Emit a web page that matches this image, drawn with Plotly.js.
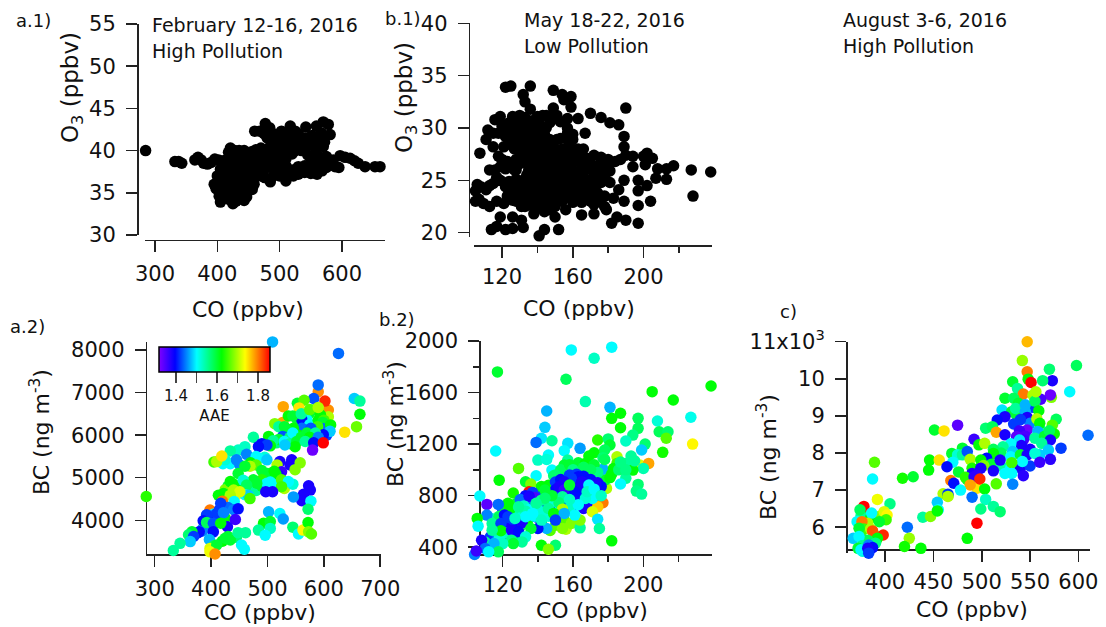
<!DOCTYPE html>
<html><head><meta charset="utf-8">
<script src="https://cdn.plot.ly/plotly-3.0.1.min.js"></script>
<style>html,body{margin:0;padding:0;background:#fff}#p{width:1106px;height:627px}</style>
</head><body><div id="p"></div>
<script>
// Panel a.1: [CO, O3]
const a1Points=[[285,40],[332,38.7],[338,38.7],[343,38.5],[364,38.9],[369,39.2],[374,38.9],[378,38.5],[384,38.4],[390,38.6],[396,39],[402,38.9],
[405,33.9],[425,33.7],[443,34.1],[447,34.5],[398,35.5],[408,35.2],[415,35],[422,34.8],[430,35],[436,35.5],[402,36.3],[410,36.2],[417,36],[425,36],[433,36],[440,36],[449,35.5],[456,35.4],[459,36],
[400,37],[407,37],[414,37],[421,37],[428,37],[435,37],[442,37],[450,36.8],[458,36.6],[463,37],[470,37],[476,36.8],[485,36.3],
[405,37.8],[412,38],[419,38],[426,38],[433,38],[440,38],[447,38],[455,37.7],[410,38.8],[416,39],[423,39],[430,39],[437,39],[444,39],[451,39],[458,38.5],
[418,39.8],[421,40.3],[428,40],[435,40],[443,40],[449,39.7],[456,39.9],[462,40.1],[470,39.9],[478,39.8],
[470,39],[480,39],[490,39],[500,38.8],[490,38],[500,38],[510,38.2],[495,37.5],[505,37.3],[515,37.5],[522,37],[530,37.2],[540,37.4],[550,37.3],[560,37.2],[568,37.6],[510,36.4],
[575,38],[585,38.3],[595,38],[589,38.1],[573,38.5],[586,38.9],[597,39.4],[605,39.2],[613,39.1],[620,38.8],[626,38.5],[637,38.1],[653,38.1],[661,38.1],[559,37.5],
[460,42.3],[468,42.3],[477,43.2],[484,42.7],[495,41.7],[503,42.3],[517,42.9],[525,42.3],[542,42.8],[559,42.9],[570,43.4],[578,43.1],[581,41.9],[567,42.1],[562,41.3],[570,40.5],[559,40.1],[475,42],[488,42],[510,42],
[490,41],[500,41],[510,41],[520,41],[530,41],[540,40.5],[505,40],[515,40],[525,40],[535,40],[545,39.5],[555,39.5],[495,40],[485,40.5],[510,39],[520,39.6],[510,37.8],[530,38.1],[540,38.2],[550,38.7],[560,38.5],[565,39.2],[548,40.7],[572,41],
[480,41.5],[490,42],[500,41.8],[515,41.8],[530,42],[552,41.8],[555,41],[545,41.5],[562,39.3],[575,39.3],[480,38],[470,38.2],[465,39.3],[470,40.3],[500,39.5],[520,37.7],[535,37.6],[545,38],[555,38.1],[565,38.2],[510,40.5],[520,41.5],[530,40.5],[540,41.5],[500,40.5],[490,39.5],[490,37],[500,37],[473,37.5],[465,38],[440,34.8],[410,34.5],[419,34.2],[403,34.6],[395,36],[430,34],[448,36.5]];
// Panel b.1: [CO, O3]
const b1Points=[[190,31.9],[122,33.9],[125,34],[136,34],[149,33.6],[154,33.2],[159,33],[132,33.2],[133,32.5],[136,31.8],[149,31.9],[155,32.7],[159,32],
[126,31.1],[130,31.2],[140,31.1],[145,31.2],[151,31.2],[157,30.9],[163,30.9],[170,31.4],[176,31],[181,30.5],[186,30.3],[189,29.2],[189,28.2],[190,27.4],[187,27],[194,27.3],[194,26.3],[200,27.3],[202,27.6],[205,27.1],[201,26.5],[208,26.1],[217,26.4],[213,26.1],[207,25.2],[213,25.1],[227,26],[238,25.8],[228,23.5],
[119,31.1],[116,30.8],[112,29.8],[111,28.9],[107.5,27.6],[115,28.2],[106,24.6],[105,24],[105,23],[109.5,22.8],[113,22.5],[111,24.1],[115,24.7],[117,25.3],[119,26.3],[118,27.3],[121,28.2],
[114,20.3],[117,20.6],[119,21.5],[122,20.3],[126,20.4],[126,21.5],[131,21.2],[132,20.5],[141,19.7],[144,20.3],[152,20.3],[165,21.7],[172,21.8],[182,20.9],[185,21.5],[190,21.2],[197,20.9],[179,22.2],[197,22.6],[204,23],[189,23],[183,23.3],[186,24.1],[189,25],[197,25],[202,24.5],[197,24],[181,24.8],[174,23.8],[167,29.5],[156,22.2],[150,21.5],[147,22.2],[141.5,22.6],[131,22.5],[126,23.1],[121,22.8],
[124,30.5],[129,30.6],[135,30.4],[141,30.5],[147,30.5],[124,30],[128,29.9],[133,30],[138,30.1],[143,29.9],[157,30],[123,29.5],[127,29.6],[131,29.4],[135,29.5],[139,29.6],[144,29.4],[157,29.5],[160,29.4],[127,29],[131,29.1],[135,28.9],[139,29],[143,29.1],[147,28.9],[160,28.9],[129,28.5],[133,28.4],[137,28.6],[141,28.5],[145,28.4],[149,28.6],
[130,28],[134,28.1],[138,27.9],[142,28],[146,28.1],[150,27.9],[154,28],[158,28.1],[162,27.9],[131,27.5],[135,27.4],[139,27.6],[143,27.5],[147,27.4],[151,27.6],[155,27.5],[159,27.4],[163,27.6],[134,27],[138,27.1],[142,26.9],[146,27],[150,27.1],[154,26.9],[158,27],[168,27.1],[172,27.4],[176,27.2],[126,26.5],[130,26.6],[135,26.4],[139,26.5],[143,26.6],[147,26.4],[151,26.5],[155,26.6],[159,26.4],[165,26.5],[170,26.6],[176,26.4],[180,26.3],
[122,26.1],[128,26],[135,25.9],[139,26],[143,26.1],[147,25.9],[151,26],[155,26.1],[160,25.9],[165,26],[170,26.1],[175,25.9],[181,25.9],[134,25.5],[138,25.6],[142,25.4],[146,25.5],[150,25.6],[154,25.4],[158,25.5],[162,25.6],[166,25.4],[172,25.5],[178,25.4],
[118,25],[124,24.9],[128,25.1],[132,25],[136,24.9],[140,25.1],[144,25],[148,24.9],[152,25.1],[156,25],[160,24.9],[164,25.1],[168,25],[174,24.9],[122,24.5],[127,24.6],[131,24.4],[135,24.5],[139,24.6],[143,24.4],[147,24.5],[151,24.6],[155,24.4],[159,24.5],[163,24.6],[167,24.4],[171,24.5],
[125,24],[129,24.1],[133,23.9],[137,24],[141,24.1],[145,23.9],[149,24],[153,24.1],[157,23.9],[161,24],[165,24.1],[169,23.9],[123,23.5],[127,23.4],[131,23.6],[135,23.5],[139,23.4],[143,23.6],[147,23.5],[151,23.4],[155,23.6],[159,23.5],[163,23.4],[167,23.6],[172,23.5],[128,23],[132,23.1],[136,22.9],[140,23],[146,23.1],[150,22.9],[154,23],[160,23.1],[165,22.9],[170,23],[175,23.1],[133,22.5],[137,22.6],[141,22.4],[145,22.5],
[123,26.8],[122,29.2],[127,28],[125,28.4],[118,29.5],[115,29.5],[120,30.2],[127,26],[128,27],[161,26.8],[164,27],[158,28.5],[163,28],[166,28],[170,24],[173,24.5],[176,24.8],[178,25],[175,26.5],[180,27],[184,26.8],[178,23.5],[175,23],[178,22.5],[172,22.7],[160,22.9],[150,22.5],[138,21.8],[144,22],[122,24.4],[113,24.5],[108,24.4],[107,23.2],[117,23],[113,26],[116,26],[119,25],[120,27],[153,29],[156,29],[151,28.9],[145,30],[148,31],[153,30.6],[143,31.2],[133,31],[137,30.7]];
// Panel a.2: [CO, BC, AAE]
const a2Points=[[285,4560,1.64],[509,8190,1.47],[626,7920,1.44],[590,7020,1.79],[590,7180,1.44],[582,6860,1.43],[608,6590,1.79],[602,6800,1.84],[654,6860,1.48],[664,6800,1.55],[664,6490,1.62],[658,6200,1.67],[637,6070,1.75],[528,6670,1.78],[553,6750,1.6],[565,6820,1.66],[556,6640,1.75],[527,6300,1.78],[513,6270,1.68],[608,6430,1.7],[594,6480,1.62],[582,6590,1.62],[574,6510,1.6],[537,6450,1.62],[553,6360,1.6],[570,6360,1.5],[561,6360,1.4],
[520,6200,1.55],[530,6200,1.6],[545,6450,1.6],[560,6500,1.55],[575,6600,1.66],[590,6650,1.7],[575,6250,1.5],[590,6350,1.62],[600,6350,1.65],[598,6300,1.6],[600,6150,1.44],[605,6000,1.42],[590,5900,1.38],
[589,6200,1.65],[612,6240,1.62],[611,6090,1.48],[599,6010,1.4],[561,6160,1.44],[577,6160,1.43],[546,6160,1.62],[534,6120,1.6],[527,5970,1.43],[502,5970,1.62],[475,5950,1.55],[516,5820,1.56],[520,5900,1.6],[540,5950,1.56],[555,6000,1.62],[570,6050,1.6],[585,6050,1.55],[545,6050,1.5],[560,5950,1.6],[575,5950,1.62],[590,5950,1.45],[530,5850,1.5],[510,5870,1.55],[490,5800,1.4],[505,5750,1.62],[540,5800,1.55],[552,5850,1.6],[549,5730,1.62],[531,5770,1.48],[567,5850,1.55],[582,5820,1.4],[580,5650,1.33],[599,5820,1.86],
[499,5770,1.42],[484,5730,1.4],[460,5730,1.53],[448,5650,1.53],[434,5630,1.55],[463,5550,1.45],[421,5330,1.5],[434,5330,1.5],[451,5300,1.45],[480,5500,1.5],[495,5480,1.52],[484,5460,1.5],[499,5420,1.48],[522,5380,1.38],[543,5420,1.38],[540,5300,1.38],[558,5350,1.68],[549,5190,1.68],[517,5300,1.7],[470,5350,1.62],[480,5300,1.66],[445,5420,1.45],[425,5420,1.52],[405,5370,1.65],[469,5270,1.7],[460,5270,1.6],[410,5380,1.7],[419,5510,1.75],[525,5140,1.36],[517,4940,1.34],[490,5170,1.6],[505,5100,1.58],[500,5100,1.6],[512,5150,1.62],[520,5050,1.38],[515,5080,1.62],[505,4900,1.5],[490,4950,1.64],[475,4950,1.6],[470,4750,1.58],[480,4700,1.55],[490,4800,1.6],[500,4750,1.42],[510,4850,1.5],[530,4750,1.7],[545,4850,1.52],[525,4950,1.66],[450,4800,1.62],[440,4850,1.62],[430,4800,1.6],[425,4720,1.68],[445,4600,1.74],[448,5100,1.6],[457,4940,1.52],[434,4910,1.62],[537,4910,1.5],[525,4790,1.65],[499,4870,1.5],[481,4870,1.6],[463,4830,1.58],[497,4670,1.38],[509,4670,1.38],[573,4810,1.38],[576,4710,1.38],[564,4610,1.38],[561,4460,1.38],[546,4550,1.46],[577,4450,1.5],[572,4260,1.57],[460,4600,1.5],[466,4590,1.48],[469,4510,1.65],[440,4710,1.7],[422,4630,1.62],[413,4590,1.62],[451,4670,1.72],[434,4590,1.7],[441,4440,1.5],
[398,4240,1.8],[420,4450,1.8],[405,4150,1.5],[415,4250,1.42],[430,4300,1.44],[440,4250,1.45],[400,4100,1.44],[415,4050,1.42],[425,4050,1.62],[405,3950,1.4],[395,3850,1.42],[385,3800,1.46],[375,3700,1.42],[385,3750,1.45],[417,4400,1.42],[448,4270,1.4],[410,4160,1.42],[422,4180,1.45],[392,4130,1.42],[386,3990,1.4],[443,4020,1.36],[429,3850,1.38],[392,3950,1.58],[404,3930,1.43],[417,3930,1.62],[404,3730,1.4],[379,3730,1.4],[366,3730,1.6],[360,3660,1.57],[369,3620,1.42],[363,3500,1.48],[397,3550,1.47],[430,3620,1.6],[445,3600,1.57],[420,3510,1.62],[405,3400,1.58],[398,3340,1.72],[410,3420,1.6],[398,3260,1.73],[407,3210,1.79],[425,3580,1.6],[434,3540,1.6],[448,3710,1.55],[461,3710,1.55],[454,3420,1.5],[459,3320,1.5],[345,3460,1.55],[333,3290,1.55],[502,4200,1.47],[522,4160,1.5],[528,4030,1.46],[493,3930,1.62],[505,3970,1.6],[484,3770,1.55],[505,3810,1.53],[496,3650,1.5],[545,3840,1.57],[555,3680,1.5],[563,3770,1.74],[572,3950,1.62],[573,3730,1.68],[578,3680,1.66]];
// Panel b.2: [CO, BC, AAE]
const b2Points=[[159,1931,1.5],[182,1952,1.5],[172,1866,1.53],[117,1760,1.6],[156,1703,1.58],[238.5,1651,1.62],[205,1607,1.62],[217,1542,1.62],[167,1530,1.54],[145,1457,1.47],[181,1485,1.47],[187,1439,1.62],[182,1400,1.62],[197,1400,1.58],[208,1379,1.52],[227,1408,1.51],[144,1330,1.48],[187,1327,1.62],[197,1322,1.58],[209,1296,1.58],[214,1296,1.57],[194,1270,1.56],[213,1245,1.66],[142,1245,1.49],[139,1213,1.44],[148,1226,1.55],[174,1232,1.64],[157,1206,1.49],[190,1224,1.53],[180,1240,1.57],[181,1193,1.6],[201,1200,1.57],[228,1200,1.74],[116,1146,1.5],[155,1149,1.5],[164,1167,1.46],[199,1154,1.48],[211,1136,1.63],[178,1154,1.58],[146,1115,1.5],[140,1076,1.53],[145,1081,1.52],[185,1102,1.7],[193,1107,1.55],[172,1133,1.62],[169,1107,1.62],[177,1094,1.57],[157,1076,1.55],[163,1055,1.6],[167,1050,1.62],[155,1037,1.6],[185,1050,1.65],[190,1050,1.55],[198,1037,1.72],[203,1050,1.78],[200,1011,1.54],[129,1011,1.66],[148,998,1.5],[177,1004,1.47],[194,998,1.62],[182,967,1.62],[190,934,1.55],[187,890,1.5],[118,920,1.62],[139,954,1.5],[149,954,1.57],[133,908,1.6],[136,890,1.68],[197,887,1.57],[196,835,1.56],[199,812,1.55],[126,820,1.63],[107,797,1.5],[178,882,1.5],[179,856,1.7],[135,830,1.85],[142,856,1.62],[148,856,1.68],
[146,880,1.62],[150,900,1.6],[142,870,1.62],[153,1000,1.58],[158,1040,1.6],[172,1040,1.6],[178,1080,1.58],[183,1010,1.62],[150,960,1.57],[178,920,1.6],[160,1000,1.56],[166,1020,1.58],[174,980,1.56],[170,1000,1.58],[181,940,1.62],[186,1000,1.57],[190,1000,1.56],[195,1070,1.55],[187,1060,1.56],[155,610,1.66],[142,590,1.62],[130,560,1.58],[134,600,1.62],[150,570,1.66],[156,540,1.7],[147,530,1.66],[128,740,1.6],[125,700,1.58],
[150,905,1.42],[153,925,1.4],[158,960,1.42],[162,965,1.42],[166,950,1.4],[170,925,1.4],[174,900,1.38],[176,870,1.4],[173,850,1.38],[165,860,1.38],[160,880,1.38],[156,875,1.36],[150,845,1.4],[146,815,1.4],[152,810,1.42],[157,800,1.38],[168,770,1.42],[172,745,1.38],[166,740,1.4],[160,720,1.4],[155,730,1.42],[148,720,1.4],[143,735,1.4],[139,700,1.42],[133,800,1.4],[130,770,1.44],[137,825,1.42],[141,790,1.42],[146,760,1.4],[136,720,1.44],[131,675,1.4],[135,650,1.44],[139,635,1.4],[127,580,1.4],[131,590,1.38],[124,600,1.42],[122,545,1.38],[120,500,1.4],[113,480,1.42],[117,480,1.44],[123,490,1.42],[128,500,1.46],[120,690,1.42],
[163,947,1.4],[159,934,1.42],[155,908,1.38],[165,908,1.38],[173,895,1.38],[152,869,1.38],[155,843,1.36],[161,830,1.4],[169,817,1.38],[164,791,1.4],[138,786,1.35],[135,796,1.38],[161,752,1.38],[166,700,1.38],[169,713,1.38],[177,745,1.8],[174,713,1.76],[171,675,1.72],[158,882,1.6],[169,882,1.5],[171,778,1.5],[167,778,1.52],[144,843,1.6],[142,765,1.55],[148,752,1.52],[154,791,1.55],
[132,720,1.53],[128,660,1.52],[126,690,1.54],[135,690,1.5],[138,640,1.5],[141,680,1.52],[146,640,1.52],[152,680,1.5],[158,700,1.53],[163,730,1.5],[168,830,1.53],[172,850,1.5],[176,800,1.53],[146,700,1.55],[152,745,1.57],[158,770,1.53],[148,800,1.6],[144,780,1.57],[139,740,1.55],[133,680,1.54],[122,510,1.53],[118,470,1.52],[116,530,1.54],[110,440,1.55],[128,470,1.58],[114,620,1.53],[117,610,1.55],[121,710,1.6],[124,690,1.62],[118,640,1.58],
[174,617,1.49],[175,545,1.55],[182,449,1.62],[142,415,1.62],[150,415,1.57],[146,384,1.68],[154,695,1.7],[149,662,1.62],[154,545,1.68],[159,584,1.68],[164,550,1.55],[164,610,1.68],[161,649,1.5],[155,662,1.47],[150,610,1.42],[145,545,1.47],[140,545,1.4],[142,610,1.53],[137,662,1.5],[133,636,1.5],[136,545,1.6],[129,713,1.55],[123,740,1.62],[117.5,732,1.44],[111,732,1.34],[111,649,1.45],[105.5,623,1.62],[106,563,1.5],[114,584,1.55],[121,649,1.4],[119,584,1.42],[119,527,1.62],[114,532,1.55],[125,532,1.38],[129,519,1.4],[133,480,1.52],[125,454,1.56],[131,441,1.55],[126,428,1.6],[120,428,1.53],[115,428,1.47],[108,454,1.38],[110,390,1.44],[117.5,364,1.58],[112,364,1.5],[104,343,1.45],[105,371,1.36],[123,636,1.42],[127,623,1.53]];
// Panel c: [CO, BC, AAE]
const cPoints=[[610,8480,1.44],[547,11000,1.77],[542,10490,1.69],[547,10190,1.8],[598,10360,1.58],[570,10260,1.57],[548,9990,1.62],[551,9900,1.86],[573,9950,1.38],[563,9950,1.57],[532,9920,1.6],[591,9650,1.5],[537,9740,1.55],[543,9590,1.8],[553,9560,1.7],[572,9500,1.68],[571,9565,1.33],[561,9450,1.35],[524,9475,1.6],[533,9475,1.58],[538,9340,1.6],[553,9230,1.42],[521,9160,1.49],[531,9115,1.6],[536,9025,1.6],[535,9200,1.55],[545,9300,1.47],[555,9400,1.58],[556,9650,1.7],[559,9140,1.62],[545,9115,1.47],[524,8980,1.38],[547,8960,1.38],[550,8800,1.45],[540,8900,1.42],[560,8650,1.55],[516,8890,1.4],[557,8920,1.7],[577,8910,1.58],[560,8800,1.62],[533,8785,1.42],[475,8750,1.34],[504,8670,1.57],[511,8710,1.58],[573,8750,1.66],[547,8620,1.33],[539,8600,1.36],[451,8620,1.6],[461,8595,1.75],[515,8560,1.78],[524,8490,1.38],[575,8515,1.63],[558,8580,1.47],[545,8450,1.35],[555,8400,1.55],[565,8450,1.6],[570,8600,1.58],[492,8370,1.36],[543,8350,1.36],[536,8440,1.34],[539,8350,1.49],[571,8350,1.38],[497,8220,1.62],[503,8260,1.7],[541,8200,1.38],[530,8250,1.5],[562,8260,1.55],[582,8130,1.42],[480,8130,1.6],[522,8170,1.55],[550,8100,1.38],[520,8000,1.58],[512,8100,1.58],[469,7990,1.6],[475,7950,1.52],[480,7950,1.55],[470,7750,1.5],[485,8040,1.43],[532,8040,1.48],[530,7900,1.5],[540,7950,1.6],[560,7950,1.48],[547,7950,1.38],[555,7990,1.52],[569,8080,1.48],[512,7990,1.62],[446,7810,1.62],[456,7810,1.75],[505,7860,1.4],[488,7830,1.7],[500,7700,1.62],[510,7700,1.6],[520,7650,1.55],[530,7600,1.5],[540,7600,1.38],[550,7650,1.42],[499,7810,1.62],[519,7810,1.38],[542,7770,1.5],[531,7740,1.65],[560,7750,1.36],[571,7830,1.37],[464,7630,1.4],[490,7590,1.63],[502,7660,1.68],[445,7540,1.62],[476,7490,1.6],[512,7520,1.38],[524,7450,1.5],[543,7390,1.37],[531,7450,1.5],[499,7590,1.38],[490,7450,1.38],[418,7320,1.63],[429,7360,1.6],[387,7300,1.5],[389,7750,1.66],[468,7260,1.8],[485,7280,1.6],[483,7350,1.64],[495,7400,1.37],[471,7185,1.4],[492,7360,1.37],[495,7050,1.75],[488,7140,1.78],[498,7300,1.84],[515,7170,1.66],[532,7160,1.45],[478,7000,1.5],[503,7030,1.62],[460,6900,1.7],[465,6850,1.62],[465,6890,1.42],[465,6830,1.7],[490,6810,1.44],[392,6750,1.73],[405,6630,1.56],[454,6670,1.48],[455,6470,1.5],[504,6750,1.53],[512,6560,1.55],[499,6490,1.56],[519,6420,1.57],[439,6270,1.55],[447,6290,1.68],[454,6440,1.62],[423,6000,1.44],[495,6110,1.86],[425,5700,1.69],[485,5700,1.62],[420,5480,1.63],[437,5430,1.62],
[380,6350,1.6],[375,6300,1.55],[385,6250,1.62],[395,6300,1.68],[378,6560,1.86],[374,6470,1.58],[386,6380,1.5],[399,6420,1.72],[402,6330,1.74],[401,6200,1.65],[371,6150,1.5],[382,6110,1.7],[394,6150,1.6],[376,6150,1.8],[378,5950,1.65],[385,5950,1.7],[373,5970,1.6],[389,5790,1.65],[387,5900,1.82],[398,5790,1.84],[367,5700,1.48],[378,5660,1.62],[392,5700,1.62],[382,5650,1.58],[373,5750,1.5],[390,5570,1.56],[376,5500,1.55],[383,5520,1.45],[387,5450,1.4],[377,5350,1.52],[372,5430,1.6],[375,5390,1.5],[382,5430,1.38],[383,5300,1.42]];

const cTickVals=[6000,7000,8000,9000,10000,11000];
const cTickText=['6','7','8','9','10','11x10<sup>3</sup>'];
const aaeTickVals=[1.4,1.5,1.6,1.7,1.8];
const aaeTickText=['1.4','','1.6','','1.8'];
const aaeRange=[1.317,1.8585];
const rainbow=[[0,'#8000ff'],[0.145,'#0000ff'],[0.34,'#00ffff'],[0.565,'#00ff00'],[0.775,'#ffff00'],[1,'#ff0000']];

const W=1106,H=627,FONT='"DejaVu Sans", sans-serif',INK='#222',TICKFS=21,DOT=11.5;
const fx=p=>p/W, fy=p=>1-p/H;
function xAxis(range,left,right,yPos,extra){return Object.assign({range,domain:[fx(left),fx(right)],anchor:'free',position:fy(yPos),side:'bottom',
  showgrid:false,zeroline:false,showline:true,linecolor:INK,linewidth:1.5,ticks:'outside',ticklen:11,tickwidth:1.5,tickcolor:INK,
  tickfont:{family:FONT,size:TICKFS,color:'#111'},ticklabelstandoff:4,layer:'below traces',automargin:false},extra||{});}
function yAxis(range,top,bottom,xPos,extra){return Object.assign({range,domain:[fy(bottom),fy(top)],anchor:'free',position:fx(xPos),side:'left',
  showgrid:false,zeroline:false,showline:true,linecolor:INK,linewidth:1.5,ticks:'outside',ticklen:11,tickwidth:1.5,tickcolor:INK,
  tickfont:{family:FONT,size:TICKFS,color:'#111'},ticklabelstandoff:6,layer:'below traces',automargin:false},extra||{});}
const minorX={ticks:'outside',ticklen:6,dtick:20,tick0:100,tickwidth:1.5,tickcolor:INK,showgrid:false};

function black(points,xa,ya){return {type:'scatter',mode:'markers',xaxis:xa,yaxis:ya,cliponaxis:false,hoverinfo:'skip',
  x:points.map(p=>p[0]),y:points.map(p=>p[1]),marker:{color:'#000',size:DOT,line:{width:0}}};}
function colored(points,xa,ya,bar){return {type:'scatter',mode:'markers',xaxis:xa,yaxis:ya,cliponaxis:false,hoverinfo:'skip',
  x:points.map(p=>p[0]),y:points.map(p=>p[1]),
  marker:Object.assign({color:points.map(p=>p[2]),colorscale:rainbow,cmin:aaeRange[0],cmax:aaeRange[1],size:DOT,line:{width:0},showscale:!!bar},bar?{colorbar:bar}:{})};}

const colorbar={orientation:'h',x:fx(214.5),xanchor:'center',y:fy(347),yanchor:'top',len:111,lenmode:'pixels',thickness:25,thicknessmode:'pixels',
  xpad:0,ypad:0,outlinecolor:'#000',outlinewidth:1.5,borderwidth:0,ticks:'outside',ticklen:11,tickwidth:1.5,tickcolor:'#444',
  tickmode:'array',tickvals:aaeTickVals,ticktext:aaeTickText,tickfont:{family:FONT,size:15,color:'#111'},
  title:{text:'AAE',side:'bottom',font:{family:FONT,size:15,color:'#111'}}};

const data=[black(a1Points,'x','y'),black(b1Points,'x2','y2'),colored(a2Points,'x3','y3',colorbar),colored(b2Points,'x4','y4'),colored(cPoints,'x5','y5')];

function note(text,x,y,opt){return Object.assign({text,xref:'paper',yref:'paper',x:fx(x),y:fy(y),xanchor:'left',yanchor:'middle',showarrow:false,borderpad:0,
  font:{family:FONT,size:19,color:'#111'}},opt||{});}
const L={font:{family:FONT,size:18,color:'#111'}};
const T={xanchor:'center',font:{family:FONT,size:22,color:'#111'}};
const R={xanchor:'center',textangle:-90,font:{family:FONT,size:23,color:'#111'}};
const B={xanchor:'center',textangle:-90,font:{family:FONT,size:22,color:'#111'}};
const annotations=[
 note('a.1)',15,20,L),note('b.1)',384,19,L),note('a.2)',9,326,L),note('b.2)',378,319,L),note('c)',779,311,L),
 note('February 12-16, 2016',151,25),note('High Pollution',151,51),
 note('May 18-22, 2016',523,20),note('Low Pollution',523,46),
 note('August 3-6, 2016',842,20),note('High Pollution',842,46),
 note('CO (ppbv)',248,309,T),note('CO (ppbv)',579,308,T),note('CO (ppbv)',260,612,T),note('CO (ppbv)',592,610,T),note('CO (ppbv)',972,609,T),
 note('O<sub>3</sub> (ppbv)',72,88,R),note('O<sub>3</sub> (ppbv)',406,98,R),
 note('BC (ng m<sup>-3</sup>)',40,432,B),note('BC (ng m<sup>-3</sup>)',394,424,B),note('BC (ng m<sup>-3</sup>)',767,457,B)];

const layout={width:W,height:H,margin:{l:0,r:0,t:0,b:0,autoexpand:false},paper_bgcolor:'#fff',plot_bgcolor:'rgba(0,0,0,0)',showlegend:false,annotations,
 xaxis:xAxis([284,669],145,385,239.5,{dtick:100,tick0:300}),
 yaxis:yAxis([30,55],24,235,137,{dtick:5,tick0:30}),
 xaxis2:xAxis([104,238.5],473.7,711.6,245,{dtick:40,tick0:120,minor:minorX,ticklabelstandoff:1}),
 yaxis2:yAxis([19.6,40],23.3,236.9,468.7,{dtick:5,tick0:20}),
 xaxis3:xAxis([284,700.5],145.7,380.5,554.3,{dtick:100,tick0:300}),
 yaxis3:yAxis([3202,8195],341.7,554.3,145.7,{dtick:1000,tick0:4000}),
 xaxis4:xAxis([103.5,238.8],473.7,711.6,554.3,{dtick:40,tick0:120,minor:minorX,ticklabelstandoff:0}),
 yaxis4:yAxis([340,2000],341,554.9,479.3,{dtick:400,tick0:400,minor:{ticks:'outside',ticklen:6,dtick:200,tick0:400,tickwidth:1.5,tickcolor:INK,showgrid:false}}),
 xaxis5:xAxis([359.5,612],846,1090,549.3,{dtick:50,tick0:400,ticklabelstandoff:2}),
 yaxis5:yAxis([5297,11000],341.7,553.3,846,{tickmode:'array',tickvals:cTickVals,ticktext:cTickText})};
Plotly.newPlot('p',data,layout,{displayModeBar:false,staticPlot:true});
</script></body></html>
